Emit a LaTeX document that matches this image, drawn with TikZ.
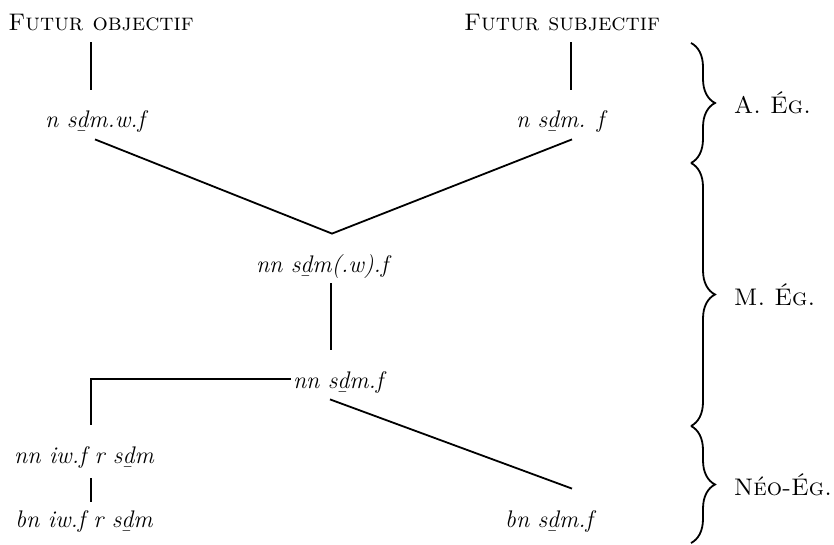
\documentclass[tikz,border=0pt]{standalone}
\usetikzlibrary{decorations.pathreplacing}

\tikzset{
	forme/.style={font=\fontsize{12}{14}\selectfont\itshape, inner sep=0pt, text height=19pt, text depth=5.5pt, anchor=base},
	titre/.style={font=\fontsize{12}{14}\selectfont\scshape, inner sep=0pt, text depth=5.5pt, anchor=base},
	periode/.style={font=\fontsize{12}{14}\selectfont\scshape, inner sep=0pt, anchor=west, right=21pt},
	accolade/.style={decorate, decoration={brace, amplitude=12pt}, line width=0.9pt},
	trait/.style={line width=0.9pt}
}

\begin{document}
\begin{tikzpicture}[x=0.5pt, y=-0.5pt]
	\useasboundingbox (0,0) rectangle (834,545);
	% les deux futurs
	\node[titre] (fobj) at (101,31) {Futur objectif};
	\node[titre] (fsubj) at (562,31) {Futur subjectif};
	\node[forme] (nsdmwf) at (95,128) {n s\b{d}m.w.f};
	\node[forme] (nsdmf) at (560,128) {n s\b{d}m. f};
	% moyen egyptien
	\node[forme] (nnsdmwf) at (322,272) {nn s\b{d}m(.w).f};
	\node[forme] (nnsdmf) at (338,388) {nn s\b{d}m.f};
	% neo-egyptien
	\node[forme] (nniw) at (84,463) {nn iw.f r s\b{d}m};
	\node[forme] (bniw) at (84,527) {bn iw.f r s\b{d}m};
	\node[forme] (bnsdmf) at (549,527) {bn s\b{d}m.f};
	\coordinate (vtip) at ([xshift=5pt]nnsdmwf.north);
	\coordinate (coin) at (91,379);
	% les traits
	\draw[trait] ([xshift=-2pt]nsdmwf.north) -- ([xshift=-2pt]nsdmwf.north |- fobj.south);
	\draw[trait] ([xshift=4.5pt]fsubj.south) -- ([xshift=4.5pt]fsubj.south |- nsdmf.north);
	\draw[trait] (nsdmwf.south) -- (vtip) -- ([xshift=6pt]nsdmf.south);
	\draw[trait] ([xshift=4.5pt]nnsdmwf.south) -- ([xshift=4.5pt]nnsdmwf.south |- nnsdmf.north);
	\draw[trait] ([xshift=-1pt,yshift=4.5pt]nnsdmf.base west) -- (coin) -- (nniw.north -| coin);
	\draw[trait] ([xshift=3.5pt,yshift=-2pt]nniw.south) -- ([xshift=3.5pt,yshift=-6.5pt]nniw.south |- bniw.north);
	\draw[trait] ([xshift=-4pt]nnsdmf.south) -- ([xshift=11.5pt]bnsdmf.north);
	% les periodes
	\draw[accolade] (691,43) -- node[periode] (aeg) {A. Ég.} (691,163);
	\draw[accolade] (691,163) -- node[periode] (meg) {M. Ég.} (691,426);
	\draw[accolade] (691,426) -- node[periode] (neg) {Néo-Ég.} (691,543);
\end{tikzpicture}
\end{document}
